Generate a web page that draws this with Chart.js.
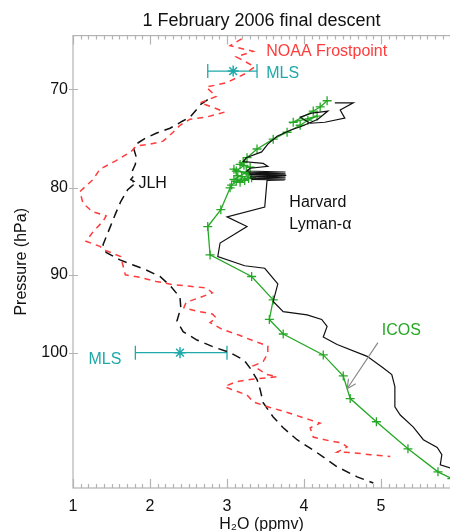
<!DOCTYPE html>
<html>
<head>
<meta charset="utf-8">
<script src="https://cdn.jsdelivr.net/npm/chart.js@4.4.0/dist/chart.umd.min.js"></script>
<style>
  html, body { margin: 0; padding: 0; background: #fff; overflow: hidden; }
</style>
</head>
<body>
<canvas id="graficoAgua" width="450" height="531"></canvas>
<script>
// NOAA frostpoint (H2O ppmv, pressure hPa)
let noaaH2O = [3.27,3.21,3.04,3.34,3.12,3.36,3.25,2.99,2.73,2.86,2.65,2.84,2.97,2.73,2.52,2.39,2.30,2.17,2.00,1.82,1.75,1.56,1.35,1.26,1.09,1.13,1.25,1.43,1.39,1.26,1.17,1.35,1.43,1.62,1.65,1.68,1.87,2.08,2.30,2.52,2.73,2.81,2.65,2.47,2.44,2.60,2.81,2.86,2.78,2.94,3.17,3.34,3.53,3.53,3.47,3.34,3.52,3.65,3.30,3.12,2.97,3.06,3.26,3.34,3.56,3.75,3.99,4.21,4.08,4.12,4.34,4.49,4.56,4.43,4.64,4.86,5.12];
let noaaP   = [64.6,65.3,66.0,66.5,67.0,67.9,68.5,69.4,69.8,70.7,71.3,71.8,72.2,72.7,72.9,73.5,74.2,75.1,75.4,75.6,76.2,77.1,78.0,79.1,80.4,81.7,82.6,83.1,83.7,84.9,86.0,86.6,87.1,87.8,88.9,90.0,90.3,90.8,91.2,91.4,91.6,92.2,92.8,93.4,94.1,94.5,94.9,95.4,96.0,96.9,97.7,98.4,99.1,100.1,101.2,101.8,103.0,103.3,103.7,104.0,104.7,105.1,105.9,106.9,107.7,108.3,109.2,110.0,110.7,112.1,112.7,113.0,113.6,114.4,114.5,114.8,115.1];

// JLH
let jlhH2O = [2.75,2.65,2.60,2.52,2.42,2.26,2.08,1.94,1.82,1.79,1.82,1.81,1.77,1.79,1.75,1.79,1.74,1.78,1.71,1.62,1.55,1.49,1.43,1.39,1.43,1.61,1.78,1.95,2.13,2.27,2.39,2.40,2.35,2.43,2.61,2.82,3.04,3.22,3.30,3.39,3.43,3.47,3.60,3.73,3.91,4.17,4.43,4.69,4.90];
let jlhP   = [71.0,71.5,72.0,72.7,73.1,73.8,74.3,74.8,75.4,75.9,76.7,77.5,78.2,78.7,79.1,79.3,79.5,79.7,80.2,81.5,82.9,84.2,85.5,86.4,87.3,88.2,88.8,89.4,90.2,91.4,92.8,94.1,95.8,97.2,98.3,99.2,100.0,101.0,102.1,103.7,105.1,107.0,109.1,110.7,112.5,114.5,116.7,118.3,119.3];

// Harvard Lyman-alpha
let harvardH2O = [4.40,4.64,4.47,4.53,4.27,4.08,3.95,4.10,4.31,4.18,3.97,3.82,3.65,3.53,3.45,3.25,3.21,3.47,3.53,3.30,3.26,3.76,3.28,3.76,3.29,3.77,3.30,3.76,3.30,3.76,3.32,3.75,3.52,3.49,3.00,3.26,2.91,2.88,3.23,3.49,3.66,3.60,3.73,4.04,4.23,4.30,4.25,4.43,4.82,5.03,5.14,5.18,5.18,5.25,5.42,5.55,5.73,5.79,5.77,5.90,6.03];
let harvardP   = [71.3,71.3,72.0,72.8,73.2,73.3,72.7,72.3,72.1,72.9,73.6,74.0,74.6,75.4,76.2,76.8,77.2,77.4,77.7,77.9,78.2,78.3,78.4,78.5,78.55,78.65,78.75,78.85,78.95,79.05,79.1,79.15,79.2,82.1,83.2,84.3,86.2,87.8,88.9,89.2,91.1,93.3,94.6,95.0,95.6,96.5,97.9,98.9,100.5,102.1,103.0,104.7,107.6,108.8,110.6,112.5,113.7,114.8,116.4,116.9,117.1];

// ICOS
let icosH2O = [4.30,4.21,4.12,3.86,4.17,4.05,3.95,3.78,3.60,3.39,3.26,3.21,3.17,3.30,3.22,3.12,3.27,3.09,3.14,3.32,3.25,3.09,3.23,3.19,3.17,3.28,3.12,3.06,3.04,2.92,2.75,2.78,3.32,3.60,3.55,3.73,4.25,4.51,4.60,4.94,5.35,5.74,5.92];
let icosP   = [71.1,71.7,72.1,73.2,72.6,73.0,73.5,74.2,74.9,75.9,76.8,77.3,77.5,77.8,77.6,78.2,78.5,78.0,78.7,78.9,78.3,79.1,79.2,78.8,79.4,79.0,79.3,79.7,80.0,82.4,84.3,87.6,90.2,93.1,95.6,97.5,100.3,103.2,106.4,109.8,113.9,117.5,118.6];

// MLS (value with error range)
let mlsH2O  = [3.08, 2.39];
let mlsLow  = [2.75, 1.81];
let mlsHigh = [3.39, 3.00];
let mlsP    = [68.3, 100.0];

let xTicks = [1, 2, 3, 4, 5];
let yTicks = [70, 80, 90, 100];

const fonte = "'Liberation Sans', Arial, Helvetica, sans-serif";
const cVermelho = '#ff3b3b';
const cVerde = '#25a825';
const cCiano = '#1fa9a9';

function pares(xs, ys) {
  return xs.map((v, i) => ({x: v, y: ys[i]}));
}

let conjuntos = [
  {
    label: 'NOAA Frostpoint',
    data: pares(noaaH2O, noaaP),
    showLine: true, borderColor: cVermelho, borderWidth: 1.5, borderDash: [6, 5],
    pointRadius: 0
  },
  {
    label: 'JLH',
    data: pares(jlhH2O, jlhP),
    showLine: true, borderColor: '#111', borderWidth: 1.5, borderDash: [9, 6],
    pointRadius: 0
  },
  {
    label: 'Harvard Lyman-α',
    data: pares(harvardH2O, harvardP),
    showLine: true, borderColor: '#111', borderWidth: 1.2,
    pointRadius: 0
  },
  {
    label: 'ICOS',
    data: pares(icosH2O, icosP),
    showLine: true, borderColor: cVerde, borderWidth: 1.3,
    pointStyle: 'cross', pointRadius: 4.5, pointBorderWidth: 1.3,
    pointBorderColor: cVerde, pointBackgroundColor: cVerde
  }
];

mlsH2O.forEach((v, i) => {
  conjuntos.push({
    label: 'MLS erro',
    data: [{x: mlsLow[i], y: mlsP[i]}, {x: mlsHigh[i], y: mlsP[i]}],
    showLine: true, borderColor: cCiano, borderWidth: 1.3,
    pointStyle: 'line', pointRotation: 90, pointRadius: 7,
    pointBorderWidth: 1.3, pointBorderColor: cCiano
  });
  conjuntos.push({
    label: 'MLS',
    data: [{x: v, y: mlsP[i]}],
    pointStyle: 'star', pointRadius: 5.5, pointBorderWidth: 1.5,
    pointBorderColor: cCiano, pointBackgroundColor: cCiano
  });
});

// texts placed in data coordinates
const notas = [
  {t: 'NOAA Frostpoint', x: 3.51, p: 66.5, c: cVermelho},
  {t: 'MLS', x: 3.51, p: 68.5, c: cCiano},
  {t: 'JLH', x: 1.85, p: 79.5, c: '#111'},
  {t: 'Harvard', x: 3.81, p: 81.6, c: '#111'},
  {t: 'Lyman-α', x: 3.81, p: 84.1, c: '#111'},
  {t: 'ICOS', x: 5.01, p: 97.1, c: cVerde},
  {t: 'MLS', x: 1.20, p: 101.0, c: cCiano}
];

const moldura = {
  id: 'moldura',
  afterDraw(chart) {
    const {ctx, chartArea: a, scales: {x, y}} = chart;
    ctx.save();
    ctx.strokeStyle = '#b3b3b3';
    ctx.lineWidth = 1.2;
    ctx.strokeRect(a.left, a.top, a.right - a.left + 5, a.bottom - a.top);
    ctx.beginPath();
    for (let i = 10; i <= 59; i++) {
      const px = Math.round(x.getPixelForValue(i / 10)) + 0.5;
      const len = i % 10 === 0 ? 9 : 4;
      ctx.moveTo(px, a.bottom); ctx.lineTo(px, a.bottom - len);
      ctx.moveTo(px, a.top); ctx.lineTo(px, a.top + len);
    }
    yTicks.forEach(v => {
      const py = Math.round(y.getPixelForValue(v)) + 0.5;
      ctx.moveTo(a.left - 4, py); ctx.lineTo(a.left + 5, py);
    });
    ctx.stroke();

    ctx.font = '16px ' + fonte;
    ctx.textBaseline = 'middle';
    ctx.textAlign = 'left';
    notas.forEach(n => {
      ctx.fillStyle = n.c;
      ctx.fillText(n.t, x.getPixelForValue(n.x), y.getPixelForValue(n.p));
    });

    // arrow pointing at the ICOS curve
    const x0 = x.getPixelForValue(4.96), y0 = y.getPixelForValue(98.65);
    const x1 = x.getPixelForValue(4.56), y1 = y.getPixelForValue(105.0);
    const ang = Math.atan2(y1 - y0, x1 - x0);
    ctx.strokeStyle = '#8a8a8a';
    ctx.lineWidth = 1.2;
    ctx.beginPath();
    ctx.moveTo(x0, y0); ctx.lineTo(x1, y1);
    ctx.moveTo(x1, y1); ctx.lineTo(x1 - 10 * Math.cos(ang - 0.45), y1 - 10 * Math.sin(ang - 0.45));
    ctx.moveTo(x1, y1); ctx.lineTo(x1 - 10 * Math.cos(ang + 0.45), y1 - 10 * Math.sin(ang + 0.45));
    ctx.stroke();
    ctx.restore();
  }
};

function semMargem(s) {
  s.paddingLeft = 0; s.paddingRight = 0; s.paddingTop = 0; s.paddingBottom = 0;
}

let ctxAgua = document.getElementById('graficoAgua');
let grafico = new Chart(ctxAgua, {
  type: 'scatter',
  data: {datasets: conjuntos},
  options: {
    responsive: false,
    animation: false,
    layout: {padding: 0, autoPadding: false},
    plugins: {
      legend: {display: false},
      tooltip: {enabled: false},
      title: {
        display: true, fullSize: false,
        text: '1 February 2006 final descent',
        color: '#111',
        font: {family: fonte, size: 18, weight: 'normal'},
        padding: {top: 10, bottom: 4}
      }
    },
    scales: {
      x: {
        type: 'linear', min: 1, max: 5.896,
        grid: {display: false, drawTicks: false}, border: {display: false},
        afterBuildTicks: s => { s.ticks = xTicks.map(v => ({value: v})); },
        afterFit: s => { s.height = 43; semMargem(s); },
        ticks: {color: '#111', font: {family: fonte, size: 16}, padding: 9, callback: v => String(v)},
        title: {
          display: true, text: 'H₂O (ppmv)', color: '#111',
          font: {family: fonte, size: 16, lineHeight: 0.8}, padding: {top: 0, bottom: 0}
        }
      },
      y: {
        type: 'logarithmic', min: 65.1, max: 120.1, reverse: true,
        grid: {display: false, drawTicks: false}, border: {display: false},
        afterBuildTicks: s => { s.ticks = yTicks.map(v => ({value: v})); },
        afterFit: s => { s.width = 73; semMargem(s); },
        ticks: {color: '#111', font: {family: fonte, size: 16}, padding: 5, callback: v => String(v)},
        title: {
          display: true, text: 'Pressure (hPa)', color: '#111',
          font: {family: fonte, size: 16}, padding: {top: 12, bottom: 0}
        }
      }
    }
  },
  plugins: [moldura]
});
</script>
</body>
</html>
